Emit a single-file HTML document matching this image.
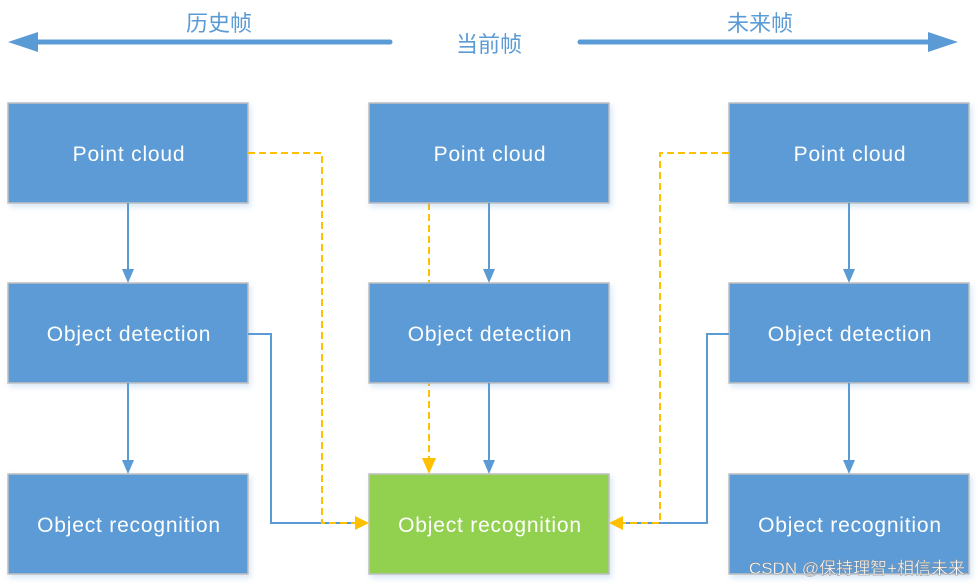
<!DOCTYPE html>
<html><head><meta charset="utf-8"><style>
html,body{margin:0;padding:0;background:#fff;width:979px;height:587px;overflow:hidden}
svg text{font-family:"Liberation Sans","Noto Sans CJK SC",sans-serif}
</style></head><body>
<svg width="979" height="587" viewBox="0 0 979 587" xmlns="http://www.w3.org/2000/svg">
<defs>
<filter id="sh" x="-10%" y="-10%" width="130%" height="140%"><feDropShadow dx="2" dy="3" stdDeviation="3" flood-color="#5b9bd5" flood-opacity="0.25"/></filter>
</defs>
<!-- top arrows -->
<line x1="390" y1="42" x2="28" y2="42" stroke="#5b9bd5" stroke-width="5" stroke-linecap="round"/>
<polygon points="8,42 38,32 38,52" fill="#5b9bd5"/>
<line x1="580" y1="42" x2="940" y2="42" stroke="#5b9bd5" stroke-width="5" stroke-linecap="round"/>
<polygon points="958,42 928,32 928,52" fill="#5b9bd5"/>
<text x="219" y="31" font-size="22" fill="#5b9bd5" text-anchor="middle">历史帧</text>
<text x="489" y="52" font-size="22" fill="#5b9bd5" text-anchor="middle">当前帧</text>
<text x="760" y="31" font-size="22" fill="#5b9bd5" text-anchor="middle">未来帧</text>

<!-- orange dashed (under boxes) -->
<g stroke="#ffc000" stroke-width="2" fill="none" stroke-dasharray="7,4">
<line x1="429" y1="203" x2="429" y2="461"/>
</g>

<g stroke="#bfbfbf" stroke-width="1.5" filter="url(#sh)">
<rect x="8" y="103" width="240" height="100" fill="#5b9bd5"/>
<rect x="8" y="283" width="240" height="100" fill="#5b9bd5"/>
<rect x="8" y="474" width="240" height="100" fill="#5b9bd5"/>
<rect x="369" y="103" width="240" height="100" fill="#5b9bd5"/>
<rect x="369" y="283" width="240" height="100" fill="#5b9bd5"/>
<rect x="369" y="474" width="240" height="100" fill="#92d050"/>
<rect x="729" y="103" width="240" height="100" fill="#5b9bd5"/>
<rect x="729" y="283" width="240" height="100" fill="#5b9bd5"/>
<rect x="729" y="474" width="240" height="100" fill="#5b9bd5"/>
</g>
<g font-size="21" fill="#fff" text-anchor="middle" letter-spacing="0.8">
<text x="129" y="161">Point cloud</text>
<text x="129" y="341">Object detection</text>
<text x="129" y="532">Object recognition</text>
<text x="490" y="161">Point cloud</text>
<text x="490" y="341">Object detection</text>
<text x="490" y="532">Object recognition</text>
<text x="850" y="161">Point cloud</text>
<text x="850" y="341">Object detection</text>
<text x="850" y="532">Object recognition</text>
</g>

<!-- blue connectors -->
<g stroke="#5b9bd5" stroke-width="2" fill="none">
<line x1="128" y1="203" x2="128" y2="270"/>
<line x1="128" y1="383" x2="128" y2="461"/>
<line x1="489" y1="203" x2="489" y2="270"/>
<line x1="489" y1="383" x2="489" y2="461"/>
<line x1="849" y1="203" x2="849" y2="270"/>
<line x1="849" y1="383" x2="849" y2="461"/>
<polyline points="248,334 271,334 271,523 356,523"/>
<polyline points="729,334 707,334 707,523 622,523"/>
</g>
<g fill="#5b9bd5">
<polygon points="128,283 122,269 134,269"/>
<polygon points="128,474 122,460 134,460"/>
<polygon points="489,283 483,269 495,269"/>
<polygon points="489,474 483,460 495,460"/>
<polygon points="849,283 843,269 855,269"/>
<polygon points="849,474 843,460 855,460"/>
</g>
<g stroke="#ffc000" stroke-width="2" fill="none" stroke-dasharray="7,4">
<polyline points="248,153 322,153 322,523 356,523"/>
<polyline points="729,153 660,153 660,523 622,523"/>
</g>
<g fill="#ffc000">
<polygon points="369,523 355,516 355,530"/>
<polygon points="429,474 422,458 436,458"/>
<polygon points="609,523 623,516 623,530"/>
</g>
<text x="965" y="574" font-size="17" fill="#ffffff" stroke="#888" stroke-width="0.4" text-anchor="end">CSDN @保持理智+相信未来</text>
</svg>
</body></html>
